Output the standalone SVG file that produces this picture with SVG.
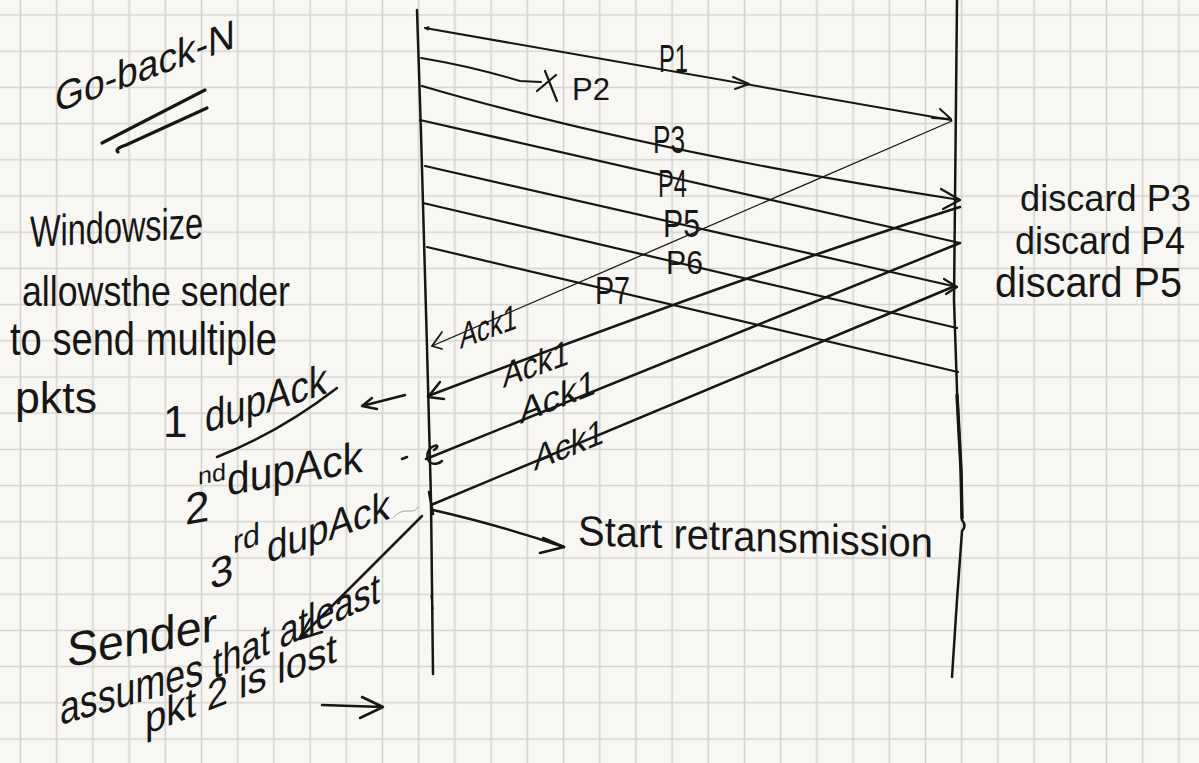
<svg xmlns="http://www.w3.org/2000/svg" width="1199" height="763" viewBox="0 0 1199 763">
<defs>
<pattern id="grid" x="2.4" y="-3.1" width="36.2" height="36.2" patternUnits="userSpaceOnUse">
<path d="M18.1,0 V36.2 M0,18.1 H36.2" stroke="#d4d2cd" stroke-width="1.6" fill="none"/>
</pattern>
<style>
.hw{font-family:"Liberation Sans Narrow","Liberation Sans","DejaVu Sans",sans-serif;fill:#161616;}
.ln{fill:none;stroke:#161616;stroke-width:2.5;stroke-linecap:round;stroke-linejoin:round;}
.th{fill:none;stroke:#161616;stroke-width:1.3;stroke-linecap:round;stroke-linejoin:round;}
.gr{fill:none;stroke:#a0a0a0;stroke-width:1;stroke-linecap:round;}
</style>
</defs>
<rect width="1199" height="763" fill="#f8f7f3"/>
<rect width="1199" height="763" fill="url(#grid)"/>

<g id="title">
<text class="hw" transform="translate(55,113) skewY(-20)" font-size="41" textLength="180" lengthAdjust="spacingAndGlyphs">Go-back-N</text>
<path class="ln" style="stroke-width:3.2" d="M102,143 L205,90"/>
<path class="ln" style="stroke-width:3.2" d="M118,152 Q114,149 126,145 L207,108"/>
</g>

<g id="note-window">
<text class="hw" transform="translate(30,247) skewY(-3)" font-size="44" textLength="173" lengthAdjust="spacingAndGlyphs">Windowsize</text>
<text class="hw" x="22" y="306" font-size="42" textLength="268" lengthAdjust="spacingAndGlyphs">allowsthe sender</text>
<text class="hw" x="10" y="355" font-size="46" textLength="267" lengthAdjust="spacingAndGlyphs">to send multiple</text>
<text class="hw" x="15" y="413" font-size="44" textLength="82" lengthAdjust="spacingAndGlyphs">pkts</text>
</g>

<g id="note-dup1">
<text class="hw" x="163" y="437" font-size="44">1</text>
<text class="hw" transform="translate(205,433) skewY(-18)" font-size="44" textLength="122" lengthAdjust="spacingAndGlyphs">dupAck</text>
<path class="ln" d="M217,457 Q280,432 337,388"/>
</g>

<g id="note-dup2">
<text class="hw" transform="translate(185,525) skewY(-10)" font-size="44"><tspan x="0" y="0">2</tspan><tspan x="13" y="-38" font-size="24" textLength="28" lengthAdjust="spacingAndGlyphs">nd</tspan><tspan x="42" y="-22" textLength="136" lengthAdjust="spacingAndGlyphs">dupAck</tspan></text>
</g>

<g id="note-dup3">
<text class="hw" transform="translate(210,590) skewY(-20)" font-size="42"><tspan x="0" y="0">3</tspan><tspan x="23" y="-28" font-size="32" textLength="27" lengthAdjust="spacingAndGlyphs">rd</tspan><tspan x="57" y="-6" textLength="123" lengthAdjust="spacingAndGlyphs">dupAck</tspan></text>
</g>

<g id="note-sender">
<text class="hw" transform="translate(67,667) skewY(-10)" font-size="48" textLength="150" lengthAdjust="spacingAndGlyphs">Sender</text>
<text class="hw" transform="translate(60,725) skewY(-16)" font-size="46" textLength="143" lengthAdjust="spacingAndGlyphs">assumes</text>
<text class="hw" transform="translate(213,680) skewY(-25)" font-size="44" textLength="167" lengthAdjust="spacingAndGlyphs">that atleast</text>
<text class="hw" transform="translate(145,735) skewY(-21)" font-size="42" textLength="192" lengthAdjust="spacingAndGlyphs">pkt 2 is lost</text>
</g>

<g id="note-retx">
<text class="hw" transform="translate(578,545) skewY(2)" font-size="42" textLength="355" lengthAdjust="spacingAndGlyphs">Start retransmission</text>
</g>

<g id="note-discard">
<text class="hw" x="1020" y="211" font-size="37" textLength="171" lengthAdjust="spacingAndGlyphs">discard P3</text>
<text class="hw" x="1015" y="254" font-size="38" textLength="170" lengthAdjust="spacingAndGlyphs">discard P4</text>
<text class="hw" x="995" y="297" font-size="42" textLength="187" lengthAdjust="spacingAndGlyphs">discard P5</text>
</g>

<g id="sender">
<path class="ln" d="M417,10 L421,133 L427,347 L431,500 L433,674"/>
<path class="th" d="M431,596 L433,609"/>
</g>
<g id="receiver">
<path class="ln" d="M957,0 L955,200 L954,300 L957,390 L961,470 L962,520 Q967,526 962,531 L957,600 L952,677"/>
<path class="ln" style="stroke-width:3.4" d="M957,395 L961,470 L962,518"/>
</g>

<g id="connectors">
<path class="th" d="M429,27 L425,28 L428,30"/>
<path class="ln" style="stroke-width:2" d="M425,28 L951,120"/>
<path class="ln" style="stroke-width:2" d="M733,77 L749,84 L735,89"/>
<path class="ln" style="stroke-width:2" d="M940,109 L951,119 L932,118"/>
<path class="ln" style="stroke-width:2" d="M421,58 Q470,66 520,81 L541,82"/>
<path class="ln" style="stroke-width:2.2" d="M545,71 L557,101 M537,91 L556,75"/>
<path class="ln" style="stroke-width:2.2" d="M422,86 Q640,150 960,200"/>
<path class="ln" style="stroke-width:2.2" d="M941,189 L960,200 L943,209"/>
<path class="ln" style="stroke-width:2.2" d="M420,120 L960,243"/>
<path class="ln" style="stroke-width:2.2" d="M425,166 L957,287"/>
<path class="ln" style="stroke-width:2.2" d="M944,279 L957,287 L946,294"/>
<path class="ln" style="stroke-width:2.2" d="M423,203 L957,328"/>
<path class="ln" style="stroke-width:2.2" d="M427,247 L958,372"/>

<path class="th" d="M952,121 L432,346"/>
<path class="th" style="stroke-width:1.8" d="M442,332 L432,346 L442,349"/>
<path class="ln" d="M960,207 Q760,270 428,396"/>
<path class="ln" d="M440,382 L428,397 L444,399"/>
<path class="ln" d="M960,243 L426,459"/>
<path class="ln" d="M434,450 C440,446 437,444 432,447 C426,451 426,460 431,463 C435,465 440,463 442,461"/>
<path class="ln" d="M955,286 L431,505"/>
<path class="ln" d="M429,492 L433,514"/>

<path class="ln" d="M433,510 Q495,524 564,547"/>
<path class="ln" d="M543,538 L564,547 L540,553"/>
<path class="ln" d="M422,516 L300,638"/>
<path class="ln" d="M310,619 L299,639 L322,632"/>
<path class="ln" d="M322,705 L383,707 M362,697 L383,707 L360,718"/>
<path class="ln" d="M405,395 L362,406 M372,398 L362,406 L377,409"/>
<path class="ln" d="M402,459 L407,457"/>
<path class="gr" d="M393,518 Q400,510 408,511 T418,507"/>
</g>

<g id="packet-labels">
<text class="hw" x="659" y="72" font-size="38" textLength="29" lengthAdjust="spacingAndGlyphs">P1</text>
<text class="hw" x="572" y="100" font-size="32" textLength="38" lengthAdjust="spacingAndGlyphs">P2</text>
<text class="hw" x="653" y="153" font-size="38" textLength="32" lengthAdjust="spacingAndGlyphs">P3</text>
<text class="hw" x="658" y="197" font-size="38" textLength="29" lengthAdjust="spacingAndGlyphs">P4</text>
<text class="hw" x="663" y="237" font-size="38" textLength="37" lengthAdjust="spacingAndGlyphs">P5</text>
<text class="hw" x="666" y="274" font-size="34" textLength="37" lengthAdjust="spacingAndGlyphs">P6</text>
<text class="hw" x="595" y="304" font-size="38" textLength="35" lengthAdjust="spacingAndGlyphs">P7</text>
</g>

<g id="ack-labels">
<text class="hw" transform="translate(460,349) skewY(-20)" font-size="36" textLength="57" lengthAdjust="spacingAndGlyphs">Ack1</text>
<text class="hw" transform="translate(503,388) skewY(-20)" font-size="36" textLength="66" lengthAdjust="spacingAndGlyphs">Ack1</text>
<text class="hw" transform="translate(520,424) skewY(-22)" font-size="36" textLength="76" lengthAdjust="spacingAndGlyphs">Ack1</text>
<text class="hw" transform="translate(534,471) skewY(-22)" font-size="36" textLength="70" lengthAdjust="spacingAndGlyphs">Ack1</text>
</g>
</svg>
